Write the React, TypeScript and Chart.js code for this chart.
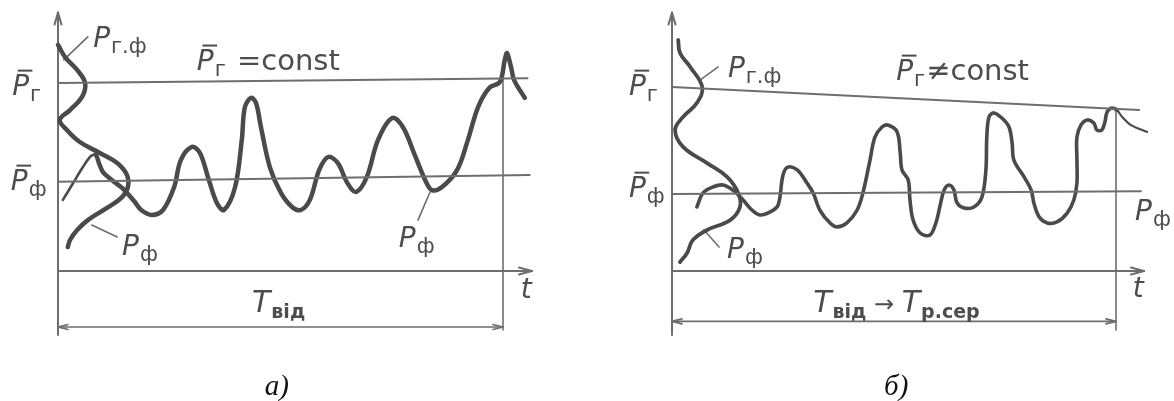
import React, { useEffect, useRef } from "react";
import { Chart, registerables } from "chart.js";

Chart.register(...registerables);

// ---------- Panel а) : P̄г = const ----------
// actual output Pф(t): t in % of Tвід, P in relative units (P̄г ≈ 100)
const seriesA_t = [1.1, 3.4, 5.6, 7.4, 8.5, 9.2, 10.1, 12.1, 14.4, 17.1, 18.7, 21.1, 23.6, 26.1, 27.6, 30.1, 31.9, 33.9, 35.7, 37.3, 39.8, 41.3, 42.0, 43.4, 44.5, 45.6, 47.6, 50.1, 52.6, 54.6, 56.6, 58.7, 60.7, 62.9, 64.9, 67.0, 69.4, 71.9, 75.1, 77.5, 80.0, 82.5, 84.0, 86.3, 89.7, 92.1, 94.4, 96.9, 99.3, 100.4, 100.9, 101.8, 102.5, 104.9];
const seriesA_P = [37.4, 46.3, 54.7, 60.5, 61.1, 56.8, 52.1, 47.9, 43.7, 36.8, 32.1, 29.5, 32.1, 44.2, 58.4, 65.3, 62.1, 47.9, 35.8, 32.1, 44.2, 68.9, 86.3, 91.1, 88.4, 75.8, 54.7, 41.1, 33.7, 32.1, 37.4, 53.2, 60.0, 56.8, 46.8, 41.6, 49.5, 68.9, 80.5, 75.8, 62.1, 47.9, 42.6, 44.2, 53.2, 68.9, 86.3, 96.3, 99.5, 111.1, 114.7, 107.4, 100.5, 91.1];
// distribution curves Pг.ф / Pф drawn sideways along the P axis
const distA_t = [0.0, 1.6, 4.3, 6.1, 5.4, 2.7, 0.4, 2.0, 4.9, 9.4, 13.3, 15.5, 15.7, 14.4, 11.0, 6.7, 4.3, 2.7, 2.2];
const distA_P = [119.0, 112.6, 105.8, 98.9, 91.6, 84.7, 79.5, 74.2, 67.9, 62.1, 56.8, 50.5, 44.2, 38.9, 33.2, 26.8, 21.6, 16.3, 12.6];
const genLevelA_t = [0, 105.5];
const genLevelA_P = [99.0, 101.5];
const actLevelA_t = [0, 106.0];
const actLevelA_P = [47.0, 50.5];

// ---------- Panel б) : P̄г ≠ const ----------
const seriesB_t = [5.6, 7.0, 9.2, 11.5, 13.7, 16.0, 18.0, 19.8, 22.1, 23.9, 25.0, 26.1, 28.2, 30.4, 31.8, 33.3, 35.6, 37.2, 39.4, 41.7, 43.0, 44.6, 45.7, 47.3, 48.6, 50.7, 51.4, 51.8, 53.2, 53.6, 54.3, 55.9, 58.1, 59.5, 60.4, 61.3, 62.4, 63.5, 64.2, 65.8, 68.0, 69.8, 70.7, 70.9, 71.4, 72.5, 74.3, 75.9, 76.6, 77.0, 79.3, 80.9, 81.5, 82.7, 84.5, 86.7, 89.0, 90.5, 91.2, 91.2, 91.2, 92.1, 93.5, 95.0, 95.7, 96.8, 97.5, 98.0, 99.1, 100.2, 101.4, 103.4, 107.0];
const seriesB_P = [33.7, 41.1, 44.2, 45.3, 42.6, 37.4, 32.1, 29.5, 31.1, 34.7, 50.5, 54.7, 53.2, 46.3, 41.1, 32.1, 25.3, 23.2, 25.3, 32.1, 41.1, 58.4, 70.5, 75.8, 76.8, 73.2, 62.1, 53.2, 47.9, 37.4, 26.8, 20.0, 18.9, 25.8, 34.7, 42.6, 45.3, 42.6, 35.8, 33.2, 33.7, 38.9, 53.2, 70.5, 81.1, 83.2, 80.5, 75.8, 67.4, 58.4, 49.5, 42.6, 35.8, 28.4, 25.3, 25.8, 30.5, 37.4, 46.3, 58.4, 70.5, 76.8, 79.5, 77.9, 74.2, 74.2, 78.4, 83.7, 85.8, 84.7, 81.1, 76.8, 73.2];
const distB_t = [1.4, 1.8, 4.1, 6.8, 5.6, 2.5, 0.7, 2.5, 7.9, 12.4, 14.9, 15.3, 13.1, 7.9, 4.7, 3.4, 1.8];
const distB_P = [121.6, 114.7, 107.4, 96.8, 88.4, 81.1, 74.2, 65.3, 56.8, 49.5, 41.1, 33.7, 26.8, 21.6, 16.3, 9.5, 4.7];
const genLevelB_t = [0, 105.2];
const genLevelB_P = [96.8, 84.7];
const actLevelB_t = [0, 105.6];
const actLevelB_P = [40.5, 42.0];

// ---------- styles ----------
const CURVE = "#4a4a4a";
const THIN = "#6e6e6e";
const TEXT = "#4d4d4d";
const SANS = '"DejaVu Sans"';

type Part = { s: string; size: number; italic?: boolean; weight?: string; dy?: number; bar?: boolean; gap?: number; family?: string };

const P = (bar = false): Part => ({ s: "P", size: 28, italic: true, bar });
const sub = (s: string): Part => ({ s, size: 21, dy: 6, gap: 1 });

type Label = { t: number; p: number; parts: Part[]; align?: "left" | "center"; color?: string };
type Leader = { t1: number; p1: number; t2: number; p2: number };

type PanelLayout = {
  tMin: number; tMax: number; pMin: number; pMax: number;
  axisTop: number; axisBottom: number; xArrowEnd: number;
  vTop: number; vBottom: number; tEnd: number; dimP: number;
  labels: Label[]; leaders: Leader[];
};

const layoutA: PanelLayout = {
  tMin: -58 / 4.45, tMax: -58 / 4.45 + 587 / 4.45, pMin: (271 - 401) / 1.9, pMax: 271 / 1.9,
  axisTop: 136, axisBottom: -33.7, xArrowEnd: 106.5,
  vTop: 104, vBottom: -31, tEnd: 100, dimP: -29.5,
  labels: [
    { t: 7.9, p: 117.9, parts: [P(), sub("г.ф")] },
    { t: 31.2, p: 105.8, parts: [P(true), sub("г"), { s: " =const", size: 29, gap: 2 }] },
    { t: -10.3, p: 92.6, parts: [P(true), sub("г")] },
    { t: -10.6, p: 42.6, parts: [P(true), sub("ф")] },
    { t: 14.4, p: 8.4, parts: [P(), sub("ф")] },
    { t: 76.6, p: 12.6, parts: [P(), sub("ф")] },
    { t: 43.6, p: -21.6, parts: [{ s: "T", size: 30, italic: true }, { s: "від", size: 19, weight: "bold", dy: 6, gap: 1 }] },
    { t: 104, p: -14.2, parts: [{ s: "t", size: 28, italic: true }] },
    { t: 49.2, p: -65.3, align: "center", color: "#111", parts: [{ s: "а)", size: 29, italic: true, family: '"Liberation Serif"' }] },
  ],
  leaders: [
    { t1: 6.7, p1: 123.2, t2: 1.3, p2: 111.1 },
    { t1: 7.6, p1: 24.2, t2: 13.3, p2: 17.9 },
    { t1: 80.9, p1: 26.8, t2: 83.6, p2: 41.6 },
  ],
};

const layoutB: PanelLayout = {
  tMin: -85 / 4.44, tMax: -85 / 4.44 + 587 / 4.44, pMin: (271 - 401) / 1.9, pMax: 271 / 1.9,
  axisTop: 136, axisBottom: -33.7, xArrowEnd: 106.3,
  vTop: 86, vBottom: -31, tEnd: 100, dimP: -26.5,
  labels: [
    { t: 12.6, p: 102.1, parts: [P(), sub("г.ф")] },
    { t: 50.5, p: 100.5, parts: [P(true), sub("г"), { s: "≠const", size: 29, gap: 1 }] },
    { t: -9.7, p: 92.6, parts: [P(true), sub("г")] },
    { t: -9.7, p: 38.9, parts: [P(true), sub("ф")] },
    { t: 104.3, p: 26.8, parts: [P(), sub("ф")] },
    { t: 12.4, p: 6.8, parts: [P(), sub("ф")] },
    {
      t: 31.8, p: -21.6, parts: [
        { s: "T", size: 30, italic: true }, { s: "від", size: 19, weight: "bold", dy: 6, gap: 1 },
        { s: " → ", size: 24 },
        { s: "T", size: 30, italic: true }, { s: "р.сер", size: 19, weight: "bold", dy: 6, gap: 1 },
      ]
    },
    { t: 103.8, p: -13.7, parts: [{ s: "t", size: 28, italic: true }] },
    { t: 50.5, p: -65.3, align: "center", color: "#111", parts: [{ s: "б)", size: 29, italic: true, family: '"Liberation Serif"' }] },
  ],
  leaders: [
    { t1: 10.4, p1: 107.4, t2: 6.3, p2: 100.5 },
    { t1: 7.2, p1: 21.6, t2: 10.6, p2: 12.6 },
  ],
};

function fontOf(p: Part) {
  return `${p.italic ? "italic " : ""}${p.weight || "normal"} ${p.size}px ${p.family || SANS}`;
}

function drawRich(ctx: CanvasRenderingContext2D, x: number, y: number, parts: Part[], align: "left" | "center") {
  let total = 0;
  for (const p of parts) {
    ctx.font = fontOf(p);
    total += (p.gap || 0) + ctx.measureText(p.s).width;
  }
  let cx = align === "center" ? x - total / 2 : x;
  for (const p of parts) {
    cx += p.gap || 0;
    ctx.font = fontOf(p);
    ctx.fillText(p.s, cx, y + (p.dy || 0));
    const w = ctx.measureText(p.s).width;
    if (p.bar) {
      const by = y - p.size * 0.73 - 4;
      ctx.save();
      ctx.lineWidth = 2;
      ctx.strokeStyle = ctx.fillStyle as string;
      ctx.beginPath();
      ctx.moveTo(cx + p.size * 0.2, by);
      ctx.lineTo(cx + w + p.size * 0.12, by);
      ctx.stroke();
      ctx.restore();
    }
    cx += w;
  }
}

function xy(ts: number[], ps: number[]) {
  return ts.map((t, i) => ({ x: t, y: ps[i] }));
}

function decor(L: PanelLayout) {
  return {
    id: "decor",
    beforeDatasetsDraw(chart: any) {
      const { ctx, scales } = chart;
      const X = (t: number) => scales.x.getPixelForValue(t);
      const Y = (p: number) => scales.y.getPixelForValue(p);
      ctx.save();
      ctx.strokeStyle = THIN;
      ctx.lineWidth = 2;
      ctx.lineCap = "round";
      const seg = (x1: number, y1: number, x2: number, y2: number) => {
        ctx.beginPath(); ctx.moveTo(x1, y1); ctx.lineTo(x2, y2); ctx.stroke();
      };
      const head = (tx: number, ty: number, dx: number, dy: number, len: number, half: number) => {
        const nx = -dy, ny = dx;
        seg(tx, ty, tx - dx * len + nx * half, ty - dy * len + ny * half);
        seg(tx, ty, tx - dx * len - nx * half, ty - dy * len - ny * half);
      };
      // P axis
      seg(X(0), Y(L.axisBottom), X(0), Y(L.axisTop));
      head(X(0), Y(L.axisTop), 0, -1, 12, 3.5);
      // t axis
      seg(X(0), Y(0), X(L.xArrowEnd), Y(0));
      head(X(L.xArrowEnd), Y(0), 1, 0, 13, 3.5);
      // end of interval
      ctx.lineWidth = 1.6;
      seg(X(L.tEnd), Y(L.vTop), X(L.tEnd), Y(L.vBottom));
      // dimension line
      seg(X(0), Y(L.dimP), X(L.tEnd), Y(L.dimP));
      head(X(0), Y(L.dimP), -1, 0, 10, 2.5);
      head(X(L.tEnd), Y(L.dimP), 1, 0, 10, 2.5);
      // leader lines
      ctx.lineWidth = 1.6;
      for (const l of L.leaders) seg(X(l.t1), Y(l.p1), X(l.t2), Y(l.p2));
      ctx.restore();
    },
    afterDatasetsDraw(chart: any) {
      const { ctx, scales } = chart;
      const X = (t: number) => scales.x.getPixelForValue(t);
      const Y = (p: number) => scales.y.getPixelForValue(p);
      ctx.save();
      ctx.textBaseline = "alphabetic";
      ctx.textAlign = "left";
      for (const lb of L.labels) {
        ctx.fillStyle = lb.color || TEXT;
        drawRich(ctx, X(lb.t), Y(lb.p), lb.parts, lb.align || "left");
      }
      ctx.restore();
    },
  };
}

function line(data: { x: number; y: number }[], width: number, color: string, tension: number, extra: any = {}) {
  return {
    data, showLine: true, borderColor: color, borderWidth: width, tension,
    pointRadius: 0, pointHoverRadius: 0, fill: false, clip: false,
    borderCapStyle: "round", borderJoinStyle: "round", ...extra,
  };
}

function makeConfig(L: PanelLayout, datasets: any[]) {
  return {
    type: "scatter",
    data: { datasets },
    options: {
      animation: false,
      responsive: false,
      events: [],
      layout: { padding: 0 },
      scales: {
        x: { type: "linear", min: L.tMin, max: L.tMax, display: false },
        y: { type: "linear", min: L.pMin, max: L.pMax, display: false },
      },
      plugins: { legend: { display: false }, tooltip: { enabled: false } },
    },
    plugins: [decor(L)],
  } as any;
}

function Panel({ left, layout, datasets }: { left: number; layout: PanelLayout; datasets: any[] }) {
  const ref = useRef<HTMLCanvasElement | null>(null);
  useEffect(() => {
    if (!ref.current) return;
    const chart = new Chart(ref.current, makeConfig(layout, datasets));
    return () => chart.destroy();
  }, []);
  return (
    <canvas
      ref={ref}
      width={587}
      height={401}
      style={{ position: "absolute", left, top: 0, width: 587, height: 401 }}
    />
  );
}

export default function App() {
  const dsA = [
    line(xy(genLevelA_t, genLevelA_P), 2, THIN, 0),
    line(xy(actLevelA_t, actLevelA_P), 2, THIN, 0),
    line(xy(distA_t, distA_P), 4.5, CURVE, 0.4),
    line(xy(seriesA_t, seriesA_P), 4.5, CURVE, 0.35, {
      segment: { borderWidth: (c: any) => (c.p0DataIndex < 4 ? 2.6 : 4.5) },
    }),
  ];
  const dsB = [
    line(xy(genLevelB_t, genLevelB_P), 2, THIN, 0),
    line(xy(actLevelB_t, actLevelB_P), 2, THIN, 0),
    line(xy(distB_t, distB_P), 3.8, CURVE, 0.4),
    line(xy(seriesB_t, seriesB_P), 3.6, CURVE, 0.35, {
      segment: { borderWidth: (c: any) => (c.p0DataIndex >= 69 ? 2.2 : 3.6) },
    }),
  ];
  return (
    <div style={{ position: "absolute", left: 0, top: 0, width: 1174, height: 401, background: "#ffffff", overflow: "hidden" }}>
      <Panel left={0} layout={layoutA} datasets={dsA} />
      <Panel left={587} layout={layoutB} datasets={dsB} />
    </div>
  );
}
